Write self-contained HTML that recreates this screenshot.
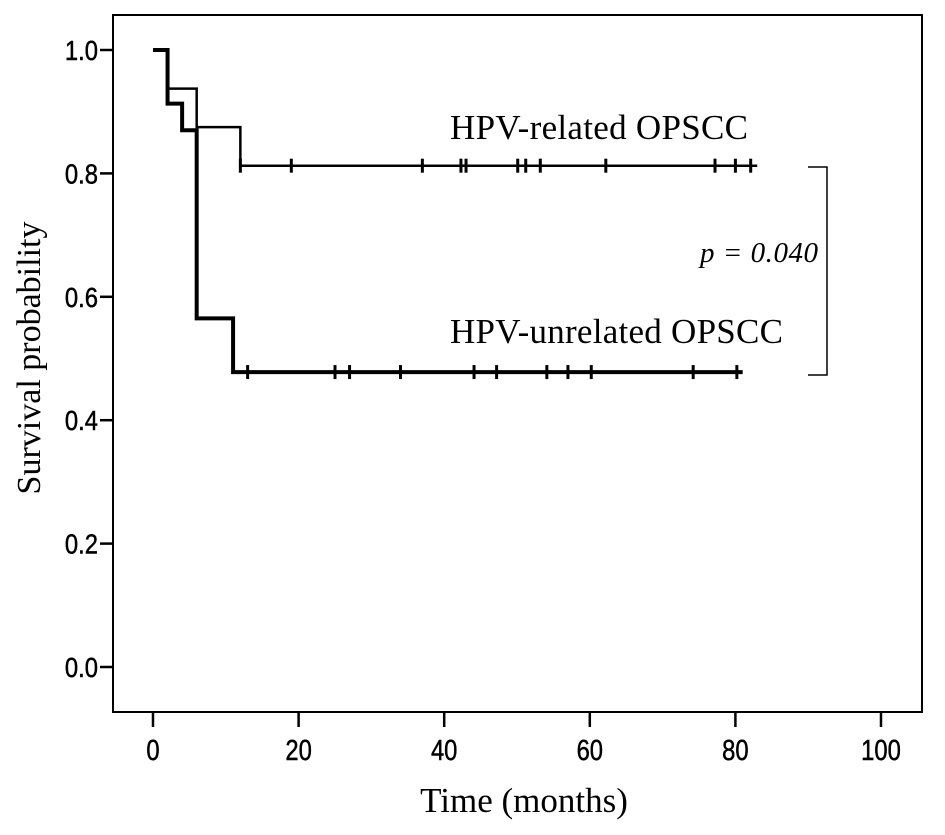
<!DOCTYPE html>
<html><head><meta charset="utf-8"><style>
body{margin:0;background:#fff}
svg text{fill:#000}
</style></head><body>
<svg width="945" height="830" viewBox="0 0 945 830" xmlns="http://www.w3.org/2000/svg">
<rect x="113" y="15" width="809" height="697" fill="none" stroke="#000" stroke-width="2"/>
<g id="axes"></g>
<g id="series"></g>
<text x="450" y="139" textLength="298" font-family="Liberation Serif, serif" font-size="35">HPV-related OPSCC</text>
<text x="450" y="343" textLength="333" font-family="Liberation Serif, serif" font-size="35">HPV-unrelated OPSCC</text>
<text x="700" y="262" textLength="118" font-family="Liberation Serif, serif" font-size="29" font-style="italic">p = 0.040</text>
<path d="M808 167 H827 V375 H808" fill="none" stroke="#000" stroke-width="1.5"/>
<text transform="translate(40,358) rotate(-90)" text-anchor="middle" font-family="Liberation Serif, serif" font-size="34">Survival probability</text>
<text x="524" y="812" text-anchor="middle" font-family="Liberation Serif, serif" font-size="35">Time (months)</text>
</svg>
<script>
const xTicks=[0,20,40,60,80,100];
const yTicks=[0.0,0.2,0.4,0.6,0.8,1.0];
const yTickLabels=["0.0","0.2","0.4","0.6","0.8","1.0"];
const relTimes=[0,2,6,12];
const relSurv=[1.0,0.9375,0.875,0.8125];
const relEnd=83;
const relCensor=[12,19,37,42.3,43,50.1,51.2,53.2,62.2,77.2,80,82.1];
const unrelTimes=[0,2,4,6,11];
const unrelSurv=[1.0,0.913,0.87,0.565,0.478];
const unrelEnd=81;
const unrelCensor=[13,25,27,34,44.1,47.2,54.1,57,60.2,74.2,80.2];

const NS="http://www.w3.org/2000/svg";
const sx=t=>153+t*7.28;
const sy=p=>667-p*617;
function mk(tag,attrs,parent){const e=document.createElementNS(NS,tag);for(const k in attrs)e.setAttribute(k,attrs[k]);parent.appendChild(e);return e;}
const ax=document.getElementById('axes');
xTicks.forEach(v=>{
 const l=mk('line',{x1:sx(v),x2:sx(v),y1:712,y2:727,stroke:'#000','stroke-width':2.5},ax);
 
 
 const t=mk('text',{x:sx(v),y:760,'text-anchor':'middle','font-family':'Liberation Sans, sans-serif','font-size':29,stroke:'#000','stroke-width':0.5,transform:'translate('+sx(v)+',0) scale(0.82,1) translate('+(-sx(v))+',0)'},ax);
 t.textContent=v;
 
 
});
yTicks.forEach((v,i)=>{
 const l=mk('line',{x1:100,x2:113,y1:sy(v),y2:sy(v),stroke:'#000','stroke-width':2.5},ax);
 
 
 const t=mk('text',{x:98,y:sy(v)+10,'text-anchor':'end','font-family':'Liberation Sans, sans-serif','font-size':28,stroke:'#000','stroke-width':0.5,transform:'translate(98,0) scale(0.85,1) translate(-98,0)'},ax);
 t.textContent=yTickLabels[i];
 
 
});
const sg=document.getElementById('series');
function step(times,surv,end){
 let d='M'+sx(times[0])+' '+sy(surv[0]);
 for(let i=1;i<times.length;i++){d+=' H'+sx(times[i])+' V'+sy(surv[i]);}
 return d+' H'+sx(end);
}
function survAt(times,surv,t){let s=surv[0];for(let i=0;i<times.length;i++)if(times[i]<=t)s=surv[i];return s;}
const p1=mk('path',{d:step(relTimes,relSurv,relEnd),fill:'none',stroke:'#000','stroke-width':2.5},sg);


relCensor.forEach(c=>{const y=sy(survAt(relTimes,relSurv,c));
 const l=mk('line',{x1:sx(c),x2:sx(c),y1:y-7,y2:y+7,stroke:'#000','stroke-width':3},sg);
 
 });
const p2=mk('path',{d:step(unrelTimes,unrelSurv,unrelEnd),fill:'none',stroke:'#000','stroke-width':4},sg);


unrelCensor.forEach(c=>{const y=sy(survAt(unrelTimes,unrelSurv,c));
 const l=mk('line',{x1:sx(c),x2:sx(c),y1:y-7,y2:y+7,stroke:'#000','stroke-width':3},sg);
 
 });
</script>
</body></html>
